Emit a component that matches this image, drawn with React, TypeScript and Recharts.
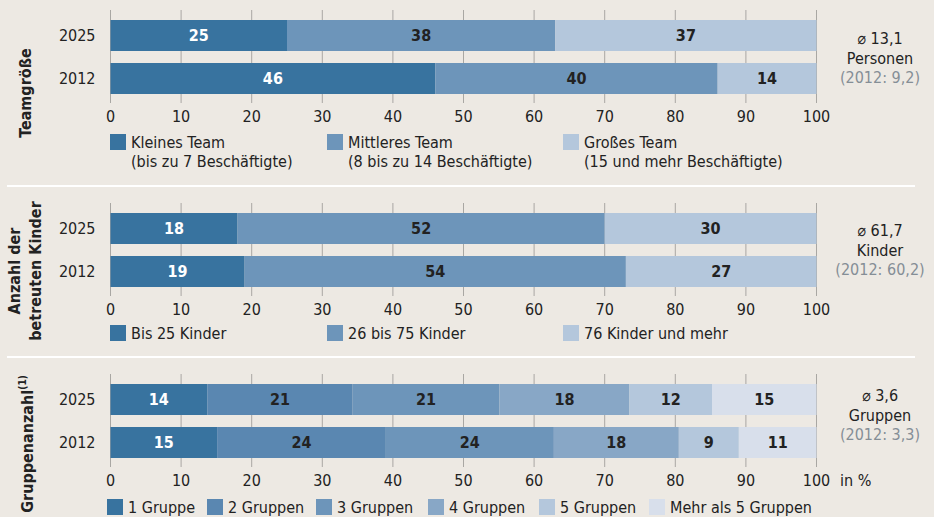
import { Bar, BarChart, CartesianGrid, LabelList, XAxis, YAxis } from "recharts";

const years = ["2025", "2012"];
const xTicks = [0, 10, 20, 30, 40, 50, 60, 70, 80, 90, 100];

// Teamgröße
const teamKlein = [25, 46];
const teamMittel = [38, 40];
const teamGross = [37, 14];
const teamLegend = [
  ["Kleines Team", "(bis zu 7 Beschäftigte)"],
  ["Mittleres Team", "(8 bis zu 14 Beschäftigte)"],
  ["Großes Team", "(15 und mehr Beschäftigte)"],
];
const teamNote = ["⌀ 13,1", "Personen", "(2012: 9,2)"];

// Anzahl der betreuten Kinder
const kinderBis25 = [18, 19];
const kinder26bis75 = [52, 54];
const kinder76plus = [30, 27];
const kinderLegend = ["Bis 25 Kinder", "26 bis 75 Kinder", "76 Kinder und mehr"];
const kinderNote = ["⌀ 61,7", "Kinder", "(2012: 60,2)"];

// Gruppenanzahl (bar lengths unrounded, labels rounded)
const gruppe1 = [13.7, 15.1];
const gruppe2 = [20.6, 23.9];
const gruppe3 = [20.8, 23.8];
const gruppe4 = [18.4, 17.7];
const gruppe5 = [11.7, 8.5];
const gruppeMehr = [14.8, 11.0];
const gruppenLegend = ["1 Gruppe", "2 Gruppen", "3 Gruppen", "4 Gruppen", "5 Gruppen", "Mehr als 5 Gruppen"];
const gruppenNote = ["⌀ 3,6", "Gruppen", "(2012: 3,3)"];

const BG = "#ede9e3";
const TEXT = "#222";
const C_DARK = "#38739f";
const C_MID = "#6d95ba";
const C_LIGHT = "#b4c7dc";
const G_COLORS = ["#38739f", "#5a87b1", "#6d95ba", "#88a7c6", "#b4c7dc", "#d8dfeb"];

const teamRows = years.map((year, i) => ({ year, a: teamKlein[i], b: teamMittel[i], c: teamGross[i] }));
const kinderRows = years.map((year, i) => ({ year, a: kinderBis25[i], b: kinder26bis75[i], c: kinder76plus[i] }));
const gruppenRows = years.map((year, i) => ({
  year,
  a: gruppe1[i],
  b: gruppe2[i],
  c: gruppe3[i],
  d: gruppe4[i],
  e: gruppe5[i],
  f: gruppeMehr[i],
}));

const round = (v: any) => Math.round(Number(v));

const Panel = (props: { top: number; data: any[]; keys: string[]; colors: string[] }) => {
  const { top, data, keys, colors } = props;
  return (
    <div style={{ position: "absolute", left: 0, top }}>
      <BarChart
        layout="vertical"
        width={934}
        height={133}
        data={data}
        margin={{ top: 10, right: 117.5, bottom: 0, left: 0.5 }}
        barSize={31}
      >
        <CartesianGrid horizontal={false} stroke="#a9a7a3" />
        <XAxis
          type="number"
          domain={[0, 100]}
          ticks={xTicks}
          interval={0}
          tickLine={false}
          axisLine={false}
          height={30}
          tick={{ fill: TEXT, fontSize: 16 }}
        />
        <YAxis
          type="category"
          dataKey="year"
          width={110}
          tickLine={false}
          axisLine={false}
          tickMargin={9}
          padding={{ top: 4, bottom: 3 }}
          tick={{ fill: TEXT, fontSize: 16 }}
        />
        {keys.map((k, i) => (
          <Bar key={k} dataKey={k} stackId="s" fill={colors[i]} isAnimationActive={false}>
            <LabelList
              dataKey={k}
              position="center"
              formatter={round}
              fill={i === 0 ? "#fff" : TEXT}
              fontSize={16}
              fontWeight={700}
            />
          </Bar>
        ))}
      </BarChart>
    </div>
  );
};

const Note = (props: { top: number; lines: string[] }) => (
  <div
    style={{
      position: "absolute",
      left: 815,
      width: 130,
      top: props.top,
      textAlign: "center",
      fontSize: 16,
      lineHeight: "19.5px",
      color: TEXT,
    }}
  >
    <div>{props.lines[0]}</div>
    <div>{props.lines[1]}</div>
    <div style={{ color: "#858e96" }}>{props.lines[2]}</div>
  </div>
);

const SideTitle = (props: { cx: number; cy: number; children: any }) => (
  <div
    style={{
      position: "absolute",
      left: props.cx,
      top: props.cy,
      transform: "translate(-50%, -50%) rotate(-90deg)",
      whiteSpace: "nowrap",
      fontWeight: 700,
      fontSize: 16,
      lineHeight: "21px",
      textAlign: "center",
      color: TEXT,
    }}
  >
    {props.children}
  </div>
);

const LegendItem = (props: { x: number; y: number; color: string; lines: string[] }) => (
  <div style={{ position: "absolute", left: props.x, top: props.y }}>
    <div style={{ position: "absolute", left: 0, top: 1, width: 16, height: 16, background: props.color }} />
    <div style={{ position: "absolute", left: 21, top: 0, whiteSpace: "nowrap", fontSize: 16, lineHeight: "19px", color: TEXT }}>
      {props.lines.map((l) => (
        <div key={l}>{l}</div>
      ))}
    </div>
  </div>
);

const Separator = (props: { y: number }) => (
  <div style={{ position: "absolute", left: 7, top: props.y, width: 908, height: 2, background: "#fff" }} />
);

const legendX3 = [110, 327, 563];
const legendX6 = [107, 207, 316, 428, 539, 649];

export default function App() {
  return (
    <div
      style={{
        position: "absolute",
        left: 0,
        top: 0,
        width: 934,
        height: 517,
        background: BG,
        overflow: "hidden",
        fontFamily: "'DejaVu Sans Condensed', 'Noto Sans', sans-serif",
      }}
    >
      <Panel top={0} data={teamRows} keys={["a", "b", "c"]} colors={[C_DARK, C_MID, C_LIGHT]} />
      <Panel top={193} data={kinderRows} keys={["a", "b", "c"]} colors={[C_DARK, C_MID, C_LIGHT]} />
      <Panel top={364} data={gruppenRows} keys={["a", "b", "c", "d", "e", "f"]} colors={G_COLORS} />

      <SideTitle cx={25} cy={93}>Teamgröße</SideTitle>
      <SideTitle cx={25} cy={271}>
        <div>Anzahl der</div>
        <div>betreuten Kinder</div>
      </SideTitle>
      <SideTitle cx={25} cy={444}>
        Gruppenanzahl<span style={{ fontSize: 10, verticalAlign: "super" }}>(1)</span>
      </SideTitle>

      {teamLegend.map((l, i) => (
        <LegendItem key={l[0]} x={legendX3[i]} y={133} color={[C_DARK, C_MID, C_LIGHT][i]} lines={l} />
      ))}
      {kinderLegend.map((l, i) => (
        <LegendItem key={l} x={legendX3[i]} y={324} color={[C_DARK, C_MID, C_LIGHT][i]} lines={[l]} />
      ))}
      {gruppenLegend.map((l, i) => (
        <LegendItem key={l} x={legendX6[i]} y={498} color={G_COLORS[i]} lines={[l]} />
      ))}

      <Note top={29} lines={teamNote} />
      <Note top={221} lines={kinderNote} />
      <Note top={386} lines={gruppenNote} />

      <div style={{ position: "absolute", left: 840, top: 471, fontSize: 16, lineHeight: "19px", color: TEXT }}>in %</div>

      <Separator y={185} />
      <Separator y={356} />
    </div>
  );
}
